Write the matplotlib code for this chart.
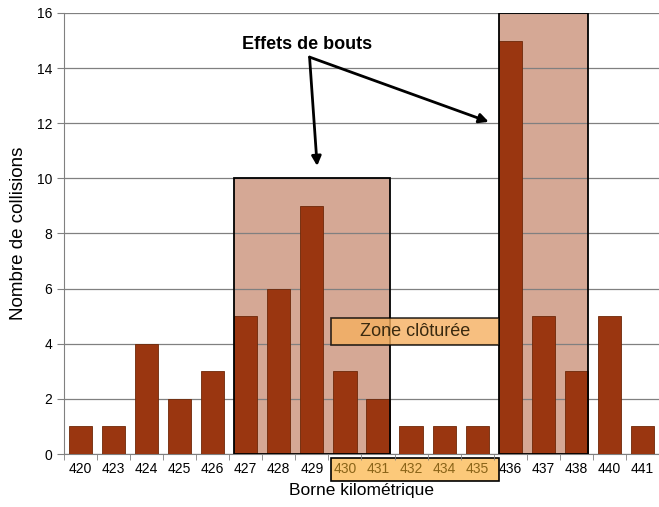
import matplotlib
matplotlib.use('Agg')
from matplotlib import pyplot as plt
from matplotlib.patches import Rectangle
import matplotlib.transforms as mtransforms
import numpy

plt.rcParams['font.family'] = ['Liberation Sans', 'DejaVu Sans']

# data
bornes = ['420', '423', '424', '425', '426', '427', '428', '429', '430',
          '431', '432', '434', '435', '436', '437', '438', '440', '441']
collisions = [1, 1, 4, 2, 3, 5, 6, 9, 3, 2, 1, 1, 1, 15, 5, 3, 5, 1]
# fenced zone tick labels
zoneCloturee = ['430', '431', '432', '434', '435']
# shaded "end effect" boxes: (first borne, last borne, height)
effetsBouts = [('427', '431', 10), ('436', '438', 16)]

BAR_W = 0.7
BAR_COLOR = '#9a3610'

def main():
    fig = plt.figure(figsize=(6.59, 5.07), dpi=100)
    ax = fig.add_axes([0.097, 0.1045, 0.903, 0.8699])
    x = numpy.arange(len(bornes))

    # end effect boxes behind the bars
    for first, last, h in effetsBouts:
        i0 = bornes.index(first)
        i1 = bornes.index(last)
        ax.add_patch(Rectangle((i0 - BAR_W / 2, 0), i1 - i0 + BAR_W, h,
                               facecolor='#c48468', alpha=0.7, edgecolor='none', zorder=1))
        ax.add_patch(Rectangle((i0 - BAR_W / 2, 0), i1 - i0 + BAR_W, h,
                               facecolor='none', edgecolor='black', lw=1.3, zorder=4))

    ax.bar(x, collisions, width=BAR_W, color=BAR_COLOR, edgecolor='#6e2808',
           linewidth=0.6, zorder=3)

    ax.set_xlim(-0.5, len(bornes) - 0.55)
    ax.set_ylim(0, 16)
    ax.set_yticks(range(0, 17, 2))
    ax.grid(axis='y', color='#808080', lw=0.9, zorder=2)
    ax.set_axisbelow(False)

    for s in ['top', 'right']:
        ax.spines[s].set_visible(False)
    ax.spines['left'].set_color('#808080')
    ax.spines['bottom'].set_color('#808080')

    ax.set_xticks(x)
    ax.set_xticklabels(bornes, fontsize=10)
    ax.set_xticks(numpy.arange(-0.5, len(bornes)), minor=True)
    ax.tick_params(axis='x', which='major', length=0, pad=6)
    ax.tick_params(axis='x', which='minor', length=4, color='#808080')
    ax.tick_params(axis='y', length=5, color='#808080', labelsize=10)

    # fenced zone highlight on tick labels
    z0 = bornes.index(zoneCloturee[0])
    z1 = bornes.index(zoneCloturee[-1])
    trans = mtransforms.blended_transform_factory(ax.transData, ax.transAxes)
    ax.add_patch(Rectangle((z0 - 0.43, -0.062), z1 - z0 + 1.08, 0.053,
                           transform=trans, facecolor='#fcc97a', edgecolor='black',
                           lw=1.2, clip_on=False, zorder=0))
    for lbl in ax.get_xticklabels():
        if lbl.get_text() in zoneCloturee:
            lbl.set_color('#8a6418')

    # zone label inside the plot
    ax.add_patch(Rectangle((z0 - 0.42, 3.95), z1 - z0 + 1.07, 0.98,
                           facecolor='#f5b060', alpha=0.8, edgecolor='black',
                           lw=1.2, zorder=5))
    ax.text((z0 - 0.42 + z1 + 0.65) / 2, 4.44, 'Zone clôturée', ha='center',
            va='center', fontsize=13, color='#3a2a10', zorder=6)

    # annotation
    ax.text(6.85, 14.85, 'Effets de bouts', ha='center', va='center',
            fontsize=13, fontweight='bold', zorder=6)
    for ex, ey in [(7.16, 10.45), (12.35, 12.05)]:
        ax.annotate('', xy=(ex, ey), xytext=(6.93, 14.4),
                    arrowprops=dict(arrowstyle='-|>', color='black', lw=2,
                                    mutation_scale=14, shrinkA=0, shrinkB=0),
                    zorder=6)

    ax.set_xlabel('Borne kilométrique', fontsize=12.5, labelpad=5)
    ax.set_ylabel('Nombre de collisions', fontsize=13.5, labelpad=7)

    fig.savefig('out.png', dpi=100)

main()
